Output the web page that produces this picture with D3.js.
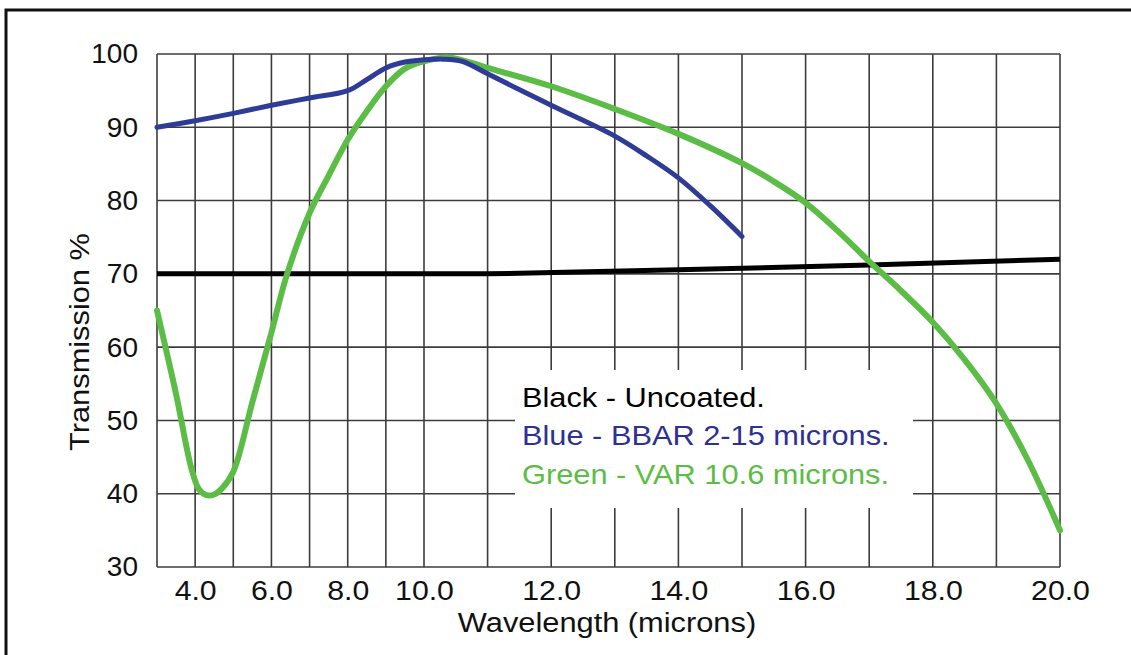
<!DOCTYPE html>
<html>
<head>
<meta charset="utf-8">
<script src="https://cdn.jsdelivr.net/npm/d3@7"></script>
<style>
  body { margin: 0; background: #fff; }
  svg { display: block; font-family: "Liberation Sans", Arial, sans-serif; }
</style>
</head>
<body>
<svg id="chart" width="1131" height="655"></svg>
<script>
// wavelength in microns, transmission in %
var uncoatedX = [3, 11, 14, 17, 20];
var uncoatedY = [70, 70, 70.55, 71.2, 72];

var bbarX = [3, 4, 5, 6, 7, 8, 8.5, 9, 9.5, 10, 10.3, 10.6, 11, 12, 13, 13.5, 14, 14.5, 15];
var bbarY = [90, 90.9, 91.9, 93, 94, 95, 96.5, 98.1, 98.9, 99.2, 99.3, 99, 97.3, 93, 88.8, 86.1, 83.1, 79.3, 75.1];

var varX = [3, 3.5, 3.9, 4.1, 4.3, 4.5, 4.7, 5, 5.5, 6, 6.4, 7, 7.5, 8, 8.5, 9, 9.5, 10, 10.4, 11, 12, 13, 14, 15, 15.5, 16, 16.5, 17, 17.5, 18, 18.5, 19, 19.5, 20];
var varY = [65, 53.6, 43.5, 40.6, 39.8, 39.9, 40.7, 43, 52.5, 62, 69.8, 78.3, 83.4, 88.3, 92.2, 95.6, 98, 99, 99.5, 98.1, 95.6, 92.5, 89.1, 85.1, 82.6, 79.7, 75.9, 71.7, 67.7, 63.4, 58.3, 52.3, 44.5, 35];

var xTicks = [4, 6, 8, 10, 12, 14, 16, 18, 20];
var yTicks = [30, 40, 50, 60, 70, 80, 90, 100];
var xGrid = d3.range(3, 21);

var legendItems = ["Black - Uncoated.", "Blue - BBAR 2-15 microns.", "Green - VAR 10.6 microns."];
var legendColors = ["#000000", "#2e3192", "#5cbd46"];

var svg = d3.select("#chart");

// piecewise axis: 3-10 compressed, 10-20 expanded
var x = d3.scaleLinear().domain([3, 10, 20]).range([157, 424, 1060]);
var y = d3.scaleLinear().domain([30, 100]).range([567, 54]);

// outer frame (only top and left edges show)
svg.append("path")
    .attr("d", "M6,655 V10 H1131")
    .attr("fill", "none")
    .attr("stroke", "#111")
    .attr("stroke-width", 3);

// grid
var grid = svg.append("g").attr("stroke", "#3c3c3c").attr("stroke-width", 1.6);
grid.selectAll(".vg")
    .data(xGrid)
  .enter().append("line")
    .attr("x1", function(d) { return x(d); })
    .attr("x2", function(d) { return x(d); })
    .attr("y1", y(100))
    .attr("y2", y(30));
grid.selectAll(".hg")
    .data(yTicks)
  .enter().append("line")
    .attr("x1", x(3))
    .attr("x2", x(20))
    .attr("y1", function(d) { return y(d); })
    .attr("y2", function(d) { return y(d); });

// tick labels
svg.append("g")
    .attr("transform", "translate(0," + y(30) + ")")
    .call(d3.axisBottom(x).tickValues(xTicks).tickSize(0).tickPadding(13)
      .tickFormat(d3.format(".1f")))
    .call(function(g) {
      g.select(".domain").remove();
      g.selectAll("text")
          .attr("font-size", 28)
          .attr("fill", "#111")
          .attr("font-family", null)
          .attr("transform", "scale(1.08,1)");
    });

svg.append("g")
    .attr("transform", "translate(" + x(3) + ",0)")
    .call(d3.axisLeft(y).tickValues(yTicks).tickSize(0).tickPadding(19))
    .call(function(g) {
      g.select(".domain").remove();
      g.selectAll("text")
          .attr("font-size", 28)
          .attr("fill", "#111")
          .attr("font-family", null);
    });

// axis titles
svg.append("text")
    .attr("transform", "translate(607,632) scale(1.1,1)")
    .attr("text-anchor", "middle")
    .attr("font-size", 28)
    .attr("fill", "#111")
    .text("Wavelength (microns)");

svg.append("text")
    .attr("transform", "translate(89,342) rotate(-90) scale(1.1,1)")
    .attr("text-anchor", "middle")
    .attr("font-size", 28)
    .attr("fill", "#111")
    .text("Transmission %");

// legend box sits over the grid
svg.append("rect")
    .attr("x", 515)
    .attr("y", 370)
    .attr("width", 398)
    .attr("height", 138)
    .attr("fill", "#fff");

var legend = svg.append("g").attr("transform", "translate(522,407) scale(1.14,1)");
legend.selectAll("text")
    .data(legendItems)
  .enter().append("text")
    .attr("x", 0)
    .attr("y", function(d, i) { return i * 38.5; })
    .attr("font-size", 27)
    .attr("fill", function(d, i) { return legendColors[i]; })
    .text(function(d) { return d; });

// curves
var line = d3.line()
    .x(function(d) { return x(d[0]); })
    .y(function(d) { return y(d[1]); });

function pairs(xs, ys) { return xs.map(function(v, i) { return [v, ys[i]]; }); }

svg.append("path")
    .datum(pairs(uncoatedX, uncoatedY))
    .attr("fill", "none")
    .attr("stroke", "#000")
    .attr("stroke-width", 5)
    .attr("d", line.curve(d3.curveLinear));

svg.append("path")
    .datum(pairs(varX, varY))
    .attr("fill", "none")
    .attr("stroke", "#5cbd46")
    .attr("stroke-width", 6)
    .attr("stroke-linecap", "round")
    .attr("stroke-linejoin", "round")
    .attr("d", line.curve(d3.curveCatmullRom.alpha(0.5)));

svg.append("path")
    .datum(pairs(bbarX, bbarY))
    .attr("fill", "none")
    .attr("stroke", "#2e3b97")
    .attr("stroke-width", 5)
    .attr("stroke-linecap", "round")
    .attr("stroke-linejoin", "round")
    .attr("d", line.curve(d3.curveCatmullRom.alpha(0.5)));
</script>
</body>
</html>
